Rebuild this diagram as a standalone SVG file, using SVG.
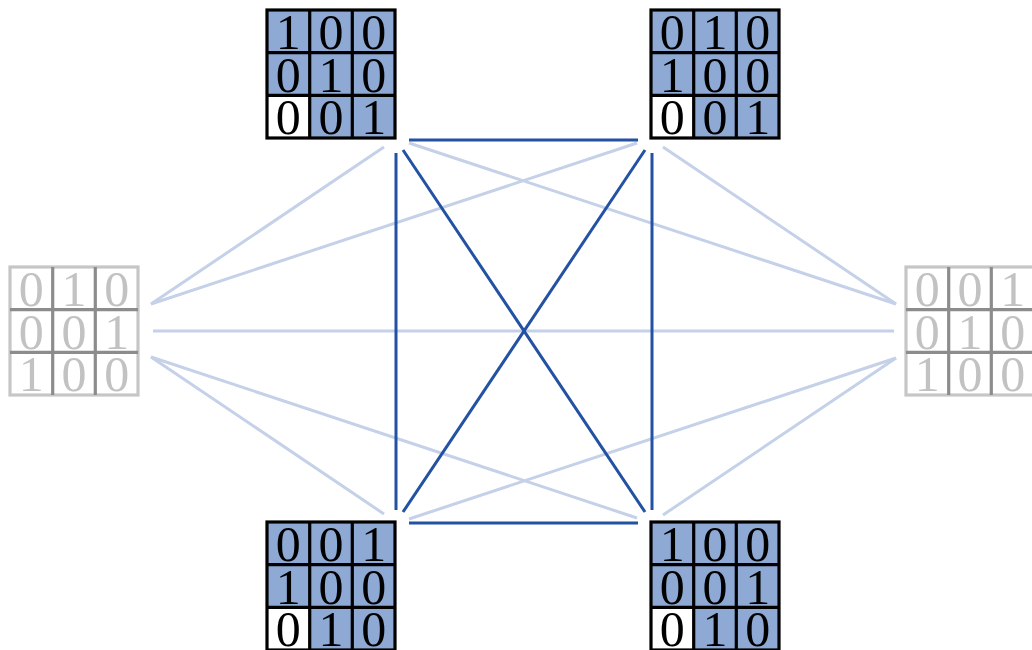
<svg xmlns="http://www.w3.org/2000/svg" width="1032" height="650" viewBox="0 0 1032 650">
  <style>
    .dark { stroke: #2352a3; stroke-width: 3; fill: none; stroke-linecap: butt; }
    .light { stroke: #c4d1e8; stroke-width: 3; fill: none; stroke-linecap: butt; }
    .cell { fill: #8eaad4; }
    .cell.w { fill: #ffffff; }
    .grid { stroke: #000; stroke-width: 3.2; fill: none; }
    .digit { font-family: "Liberation Serif", "Times New Roman", serif; font-size: 50px; text-anchor: middle; fill: #000; }
    .ggrid-out { stroke: #c6c6c6; stroke-width: 3.2; fill: none; }
    .ggrid-in { stroke: #8c8c8c; stroke-width: 3.2; fill: none; }
    .gdigit { font-family: "Liberation Serif", "Times New Roman", serif; font-size: 50px; text-anchor: middle; fill: #c2c2c2; }
  </style>
  <defs>
    <!-- 3x3 blue matrix background: bottom-left cell white -->
    <g id="blueCells">
      <rect class="cell" x="0" y="0" width="128" height="85.3"/>
      <rect class="cell" x="42.7" y="85.3" width="85.3" height="42.7"/>
      <rect class="cell w" x="0" y="85.3" width="42.7" height="42.7"/>
    </g>
    <g id="blackGrid">
      <rect class="grid" x="0" y="0" width="128" height="128"/>
      <path class="grid" d="M42.7 0V128M85.3 0V128M0 42.7H128M0 85.3H128"/>
    </g>
    <g id="grayGrid">
      <rect class="ggrid-out" x="0" y="0" width="128" height="128"/>
      <path class="ggrid-in" d="M42.7 0V128M85.3 0V128M0 42.7H128M0 85.3H128"/>
    </g>
  </defs>

  <rect width="1032" height="650" fill="#ffffff"/>

  <!-- connectors -->
  <g id="connectors">
    <line class="light" x1="151" y1="304" x2="384" y2="147"/>
    <line class="light" x1="151" y1="304" x2="637" y2="143"/>
    <line class="light" x1="153" y1="331" x2="894" y2="331"/>
    <line class="light" x1="151" y1="357" x2="384" y2="514"/>
    <line class="light" x1="151" y1="357" x2="637" y2="518"/>
    <line class="light" x1="896" y1="304" x2="663" y2="147"/>
    <line class="light" x1="896" y1="304" x2="409" y2="143"/>
    <line class="light" x1="896" y1="358" x2="663" y2="515"/>
    <line class="light" x1="896" y1="358" x2="409" y2="519"/>

    <line class="dark" x1="409" y1="140" x2="638" y2="140"/>
    <line class="dark" x1="396" y1="153" x2="396" y2="510"/>
    <line class="dark" x1="652" y1="153" x2="652" y2="510"/>
    <line class="dark" x1="409" y1="523" x2="638" y2="523"/>
    <line class="dark" x1="403" y1="150" x2="645" y2="512"/>
    <line class="dark" x1="645" y1="150" x2="403" y2="512"/>
  </g>

  <!-- top-left matrix -->
  <g id="m-top-left" transform="translate(267,10)">
    <use href="#blueCells"/>
    <text class="digit" x="21.3" y="39">1</text><text class="digit" x="64" y="39">0</text><text class="digit" x="106.7" y="39">0</text>
    <text class="digit" x="21.3" y="81.7">0</text><text class="digit" x="64" y="81.7">1</text><text class="digit" x="106.7" y="81.7">0</text>
    <text class="digit" x="21.3" y="124.3">0</text><text class="digit" x="64" y="124.3">0</text><text class="digit" x="106.7" y="124.3">1</text>
    <use href="#blackGrid"/>
  </g>

  <!-- top-right matrix -->
  <g id="m-top-right" transform="translate(651,10)">
    <use href="#blueCells"/>
    <text class="digit" x="21.3" y="39">0</text><text class="digit" x="64" y="39">1</text><text class="digit" x="106.7" y="39">0</text>
    <text class="digit" x="21.3" y="81.7">1</text><text class="digit" x="64" y="81.7">0</text><text class="digit" x="106.7" y="81.7">0</text>
    <text class="digit" x="21.3" y="124.3">0</text><text class="digit" x="64" y="124.3">0</text><text class="digit" x="106.7" y="124.3">1</text>
    <use href="#blackGrid"/>
  </g>

  <!-- bottom-left matrix -->
  <g id="m-bottom-left" transform="translate(267,522)">
    <use href="#blueCells"/>
    <text class="digit" x="21.3" y="39">0</text><text class="digit" x="64" y="39">0</text><text class="digit" x="106.7" y="39">1</text>
    <text class="digit" x="21.3" y="81.7">1</text><text class="digit" x="64" y="81.7">0</text><text class="digit" x="106.7" y="81.7">0</text>
    <text class="digit" x="21.3" y="124.3">0</text><text class="digit" x="64" y="124.3">1</text><text class="digit" x="106.7" y="124.3">0</text>
    <use href="#blackGrid"/>
  </g>

  <!-- bottom-right matrix -->
  <g id="m-bottom-right" transform="translate(651,522)">
    <use href="#blueCells"/>
    <text class="digit" x="21.3" y="39">1</text><text class="digit" x="64" y="39">0</text><text class="digit" x="106.7" y="39">0</text>
    <text class="digit" x="21.3" y="81.7">0</text><text class="digit" x="64" y="81.7">0</text><text class="digit" x="106.7" y="81.7">1</text>
    <text class="digit" x="21.3" y="124.3">0</text><text class="digit" x="64" y="124.3">1</text><text class="digit" x="106.7" y="124.3">0</text>
    <use href="#blackGrid"/>
  </g>

  <!-- left matrix (faded) -->
  <g id="m-left" transform="translate(10,267)">
    <text class="gdigit" x="21.3" y="39">0</text><text class="gdigit" x="64" y="39">1</text><text class="gdigit" x="106.7" y="39">0</text>
    <text class="gdigit" x="21.3" y="81.7">0</text><text class="gdigit" x="64" y="81.7">0</text><text class="gdigit" x="106.7" y="81.7">1</text>
    <text class="gdigit" x="21.3" y="124.3">1</text><text class="gdigit" x="64" y="124.3">0</text><text class="gdigit" x="106.7" y="124.3">0</text>
    <use href="#grayGrid"/>
  </g>

  <!-- right matrix (faded) -->
  <g id="m-right" transform="translate(906,267)">
    <text class="gdigit" x="21.3" y="39">0</text><text class="gdigit" x="64" y="39">0</text><text class="gdigit" x="106.7" y="39">1</text>
    <text class="gdigit" x="21.3" y="81.7">0</text><text class="gdigit" x="64" y="81.7">1</text><text class="gdigit" x="106.7" y="81.7">0</text>
    <text class="gdigit" x="21.3" y="124.3">1</text><text class="gdigit" x="64" y="124.3">0</text><text class="gdigit" x="106.7" y="124.3">0</text>
    <use href="#grayGrid"/>
  </g>
</svg>
